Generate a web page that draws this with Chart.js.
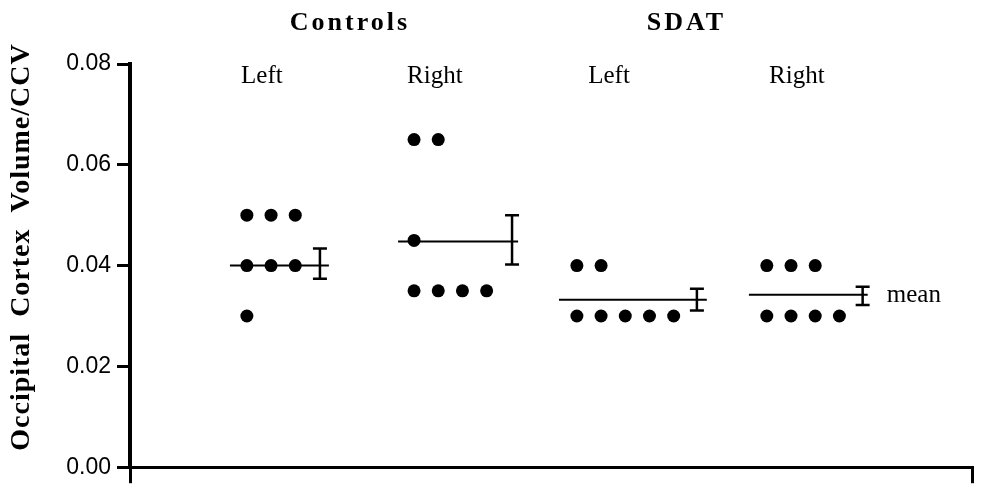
<!DOCTYPE html>
<html>
<head>
<meta charset="utf-8">
<script src="https://cdn.jsdelivr.net/npm/chart.js@4.4.1/dist/chart.umd.min.js"></script>
<style>
  body { margin: 0; background: #fff; }
  canvas { display: block; }
</style>
</head>
<body>
<canvas id="occipitalChart" width="984" height="487"></canvas>
<script>
// groups and their sides
var groupNames = ['Controls', 'SDAT'];
var sideNames = ['Left', 'Right', 'Left', 'Right'];

// individual values (Controls L, Controls R, SDAT L, SDAT R)
var controlsLeft = [0.050, 0.050, 0.050, 0.040, 0.040, 0.040, 0.030];
var controlsRight = [0.065, 0.065, 0.045, 0.035, 0.035, 0.035, 0.035];
var sdatLeft = [0.040, 0.040, 0.030, 0.030, 0.030, 0.030, 0.030];
var sdatRight = [0.040, 0.040, 0.040, 0.030, 0.030, 0.030, 0.030];
var allValues = [controlsLeft, controlsRight, sdatLeft, sdatRight];

// mean and error bar (low / high) per column
var means = [0.0400, 0.0448, 0.0332, 0.0342];
var errLow = [0.0374, 0.0402, 0.0311, 0.0322];
var errHigh = [0.0434, 0.0500, 0.0354, 0.0358];

var yTicks = [0, 0.02, 0.04, 0.06, 0.08];

// horizontal layout in dot-spacing units
var xMax = 34.8;
var colStart = [4.83, 11.74, 18.47, 26.32];
var lineFrom = [-0.70, -0.66, -0.74, -0.74];
var lineTo = [3.39, 4.30, 5.37, 4.17];
var errAt = [3.02, 4.05, 4.96, 3.96];
var sideLabelAt = [5.45, 12.6, 19.8, 27.56];
var groupLabelAt = [9.09, 23.0];

var datasets = [];
allValues.forEach(function(vals, g) {
    var counts = {};
    var pts = vals.map(function(v) {
        var k = v.toFixed(4);
        counts[k] = (counts[k] || 0);
        var p = { x: colStart[g] + counts[k], y: v };
        counts[k]++;
        return p;
    });
    datasets.push({
        type: 'scatter',
        data: pts,
        pointRadius: 6.5,
        pointBackgroundColor: '#000',
        pointBorderWidth: 0
    });
    datasets.push({
        type: 'line',
        data: [{ x: colStart[g] + lineFrom[g], y: means[g] }, { x: colStart[g] + lineTo[g], y: means[g] }],
        borderColor: '#000',
        borderWidth: 2,
        pointRadius: 0
    });
    datasets.push({
        type: 'line',
        data: [{ x: colStart[g] + errAt[g], y: errLow[g] }, { x: colStart[g] + errAt[g], y: errHigh[g] }],
        borderColor: '#000',
        borderWidth: 2.5,
        pointStyle: 'line',
        pointRadius: 7,
        pointBorderWidth: 2.5,
        pointBorderColor: '#000'
    });
});

var labelsPlugin = {
    id: 'labels',
    afterDraw: function(chart) {
        var c = chart.ctx;
        var xs = chart.scales.x, ys = chart.scales.y;
        var top = chart.chartArea.top;
        c.save();
        c.fillStyle = '#000';
        c.textAlign = 'center';
        c.textBaseline = 'alphabetic';

        c.font = 'bold 26px "Liberation Serif"';
        c.letterSpacing = '3px';
        groupNames.forEach(function(n, i) {
            c.fillText(n, xs.getPixelForValue(groupLabelAt[i]), top - 34);
        });

        c.letterSpacing = '0px';
        c.font = '25px "Liberation Serif"';
        sideNames.forEach(function(n, i) {
            c.fillText(n, xs.getPixelForValue(sideLabelAt[i]), top + 19);
        });

        c.textAlign = 'left';
        c.fillText('mean', xs.getPixelForValue(colStart[3] + errAt[3] + 1.0), ys.getPixelForValue(means[3]) + 7);

        // y axis title
        c.translate(22, 247);
        c.rotate(-Math.PI / 2);
        c.textAlign = 'center';
        c.textBaseline = 'middle';
        c.font = 'bold 28px "Liberation Serif"';
        c.letterSpacing = '1px';
        c.fillText('Occipital  Cortex  Volume/CCV', 0, 0);
        c.restore();
    }
};

var ctx = document.getElementById('occipitalChart').getContext('2d');
var occipitalChart = new Chart(ctx, {
    type: 'scatter',
    data: { datasets: datasets },
    plugins: [labelsPlugin],
    options: {
        responsive: false,
        animation: false,
        layout: { padding: { top: 64, right: 12, left: 0, bottom: 0 } },
        plugins: {
            legend: { display: false },
            tooltip: { enabled: false }
        },
        scales: {
            x: {
                type: 'linear',
                min: 0,
                max: xMax,
                afterBuildTicks: function(s) { s.ticks = [{ value: 0 }, { value: xMax }]; },
                afterFit: function(s) { s.height = 19; },
                ticks: { display: false },
                grid: { drawOnChartArea: false, drawTicks: true, tickLength: 16, lineWidth: 3, color: '#000' },
                border: { width: 3, color: '#000' }
            },
            y: {
                min: 0,
                max: 0.08,
                afterBuildTicks: function(s) { s.ticks = yTicks.map(function(v) { return { value: v }; }); },
                afterFit: function(s) { s.width = 130; },
                ticks: {
                    callback: function(v) { return v.toFixed(2); },
                    font: { family: 'Liberation Sans', size: 23 },
                    color: '#000',
                    padding: 6
                },
                grid: { drawOnChartArea: false, drawTicks: true, tickLength: 13, lineWidth: 3, color: '#000' },
                border: { width: 4, color: '#000' }
            }
        }
    }
});
</script>
</body>
</html>
